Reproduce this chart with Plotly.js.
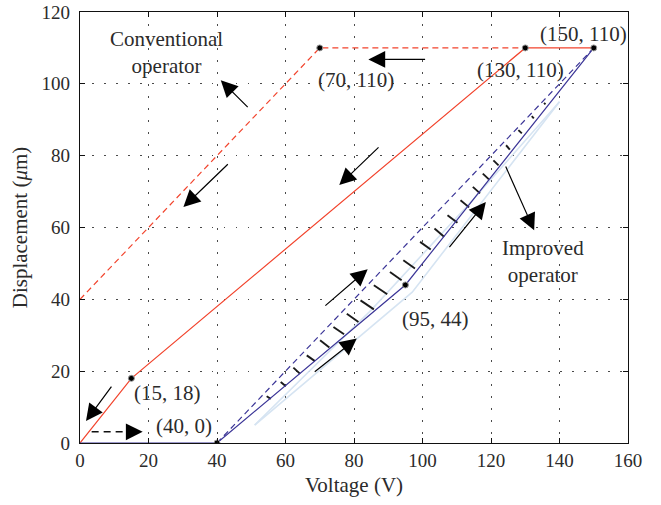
<!DOCTYPE html>
<html>
<head>
<meta charset="utf-8">
<script src="https://cdn.plot.ly/plotly-3.0.1.min.js"></script>
<style>html,body{margin:0;padding:0;background:#fff;}#chart{width:661px;height:505px;}</style>
</head>
<body>
<div id="chart"></div>
<script>
// ---- data ----
const convSolidX = [0, 15, 130, 150];
const convSolidY = [0, 18, 110, 110];
const convDashX = [0, 70, 130];
const convDashY = [40, 110, 110];
const impSolidX = [0, 40, 95, 150];
const impSolidY = [0, 0, 44, 110];
const impDashX = [40, 150];
const impDashY = [0, 110];
const lightAX = [51, 85, 115, 140];
const lightAY = [5, 37, 68, 95];
const lightBX = [51, 97, 140];
const lightBY = [5, 42, 95];
const hatchX0 = [54.5, 58.6, 62.3, 66.2, 70.1, 74.0, 77.9, 81.9, 85.8, 90.5, 94.4, 99.3, 103.5, 107.3, 111.1, 114.7, 117.6, 120.7, 124.4, 128.0, 131.9, 135.5];
const hatchY0 = [13.0, 17.0, 21.0, 24.4, 28.6, 32.3, 36.0, 39.7, 43.9, 47.6, 50.9, 56.0, 59.7, 63.4, 67.6, 71.3, 75.0, 78.7, 82.9, 87.1, 91.0, 94.7];
const hatchX1 = [55.7, 60.1, 64.2, 68.6, 72.8, 77.1, 81.3, 85.8, 89.7, 93.9, 97.8, 102.4, 106.3, 110.2, 113.6, 116.8, 119.4, 122.2, 125.5, 129.0, 132.5, 135.9];
const hatchY1 = [12.3, 15.8, 19.3, 22.8, 26.6, 30.3, 33.7, 37.2, 41.4, 45.3, 48.6, 53.9, 57.4, 61.3, 65.6, 69.5, 73.4, 77.3, 81.7, 86.2, 90.4, 94.3];
const pointX = [15, 40, 70, 130, 150, 95];
const pointY = [18, 0, 110, 110, 110, 44];
const pointLabels = ['(15, 18)', '(40, 0)', '(70, 110)', '(130, 110)', '(150, 110)', '(95, 44)'];
const labelX = [25.6, 30.4, 80.6, 128.5, 147, 103.7];
const labelY = [13.8, 4.6, 101.0, 103.8, 114.0, 34.6];
const arrowTailX = [49.4, 43.6, 101.2, 87.6, 9.5, 71.2, 68.1, 107.5, 124.1];
const arrowTailY = [93.1, 78.0, 106.8, 82.7, 16.1, 37.9, 19.5, 54.1, 77.4];
const arrowHeadX = [41.1, 30.2, 84.2, 75.7, 1.75, 84.0, 80.8, 118.5, 132.6];
const arrowHeadY = [101.0, 65.7, 106.8, 71.8, 6.1, 48.4, 29.1, 67.1, 59.2];
const dashArrowX = [3.4, 14.5, 18.3];
const dashArrowY = [3.1, 3.1, 3.1];
const xTicks = [0, 20, 40, 60, 80, 100, 120, 140, 160];
const yTicks = [0, 20, 40, 60, 80, 100, 120];

// ---- build ----
const RED = '#f2432c';
const BLUE = '#3b3597';
const LIGHT = '#d6e4f2';
const TXT = '#2b2b2b';
const FONT = 'Liberation Serif, Times New Roman, serif';

const hx = [], hy = [];
for (let i = 0; i < hatchX0.length; i++) {
  hx.push(hatchX0[i], hatchX1[i], null);
  hy.push(hatchY0[i], hatchY1[i], null);
}

const traces = [
  {x: lightAX, y: lightAY, mode: 'lines', line: {color: LIGHT, width: 1.6}},
  {x: lightBX, y: lightBY, mode: 'lines', line: {color: LIGHT, width: 1.6}},
  {x: hx, y: hy, mode: 'lines', line: {color: '#1a1a1a', width: 1.9}, connectgaps: false},
  {x: convDashX, y: convDashY, mode: 'lines', line: {color: RED, width: 1.2, dash: '6px,4px'}},
  {x: convSolidX, y: convSolidY, mode: 'lines', line: {color: RED, width: 1.2}},
  {x: impDashX, y: impDashY, mode: 'lines', line: {color: BLUE, width: 1.2, dash: '6px,4px'}},
  {x: impSolidX, y: impSolidY, mode: 'lines', line: {color: BLUE, width: 1.2}},
  {x: dashArrowX.slice(0, 2), y: dashArrowY.slice(0, 2), mode: 'lines', line: {color: '#111', width: 1.5, dash: '7px,5px'}},
  {x: pointX, y: pointY, mode: 'markers', marker: {color: '#000', size: 6, line: {color: '#9a9a9a', width: 1}}},
];

const annotations = [];
for (let i = 0; i < arrowTailX.length; i++) {
  annotations.push({
    x: arrowHeadX[i], y: arrowHeadY[i], ax: arrowTailX[i], ay: arrowTailY[i],
    xref: 'x', yref: 'y', axref: 'x', ayref: 'y', text: '', showarrow: true,
    arrowhead: 2, arrowsize: 2.8, arrowwidth: 1.2, arrowcolor: '#000', standoff: 0
  });
}
annotations.push({
  x: dashArrowX[2], y: dashArrowY[2], ax: dashArrowX[1], ay: dashArrowY[1],
  xref: 'x', yref: 'y', axref: 'x', ayref: 'y', text: '', showarrow: true,
  arrowhead: 2, arrowsize: 2.8, arrowwidth: 1.2, arrowcolor: '#000', standoff: 0
});
for (let i = 0; i < pointLabels.length; i++) {
  annotations.push({x: labelX[i], y: labelY[i], xref: 'x', yref: 'y', text: pointLabels[i],
    showarrow: false, font: {family: FONT, size: 21, color: TXT}});
}
annotations.push({x: 25.4, y: 108.8, xref: 'x', yref: 'y', text: 'Conventional<br>operator',
  showarrow: false, font: {family: FONT, size: 21, color: TXT}});
annotations.push({x: 135.2, y: 50.6, xref: 'x', yref: 'y', text: 'Improved<br>operator',
  showarrow: false, font: {family: FONT, size: 21, color: TXT}});

const axisCommon = {
  showline: true, linecolor: '#111', linewidth: 1.3, mirror: 'ticks',
  ticks: 'inside', ticklen: 5, tickcolor: '#111', tickwidth: 1,
  showgrid: true, gridcolor: '#4a4a4a', gridwidth: 1, griddash: '1.5px,10.5px',
  zeroline: false, tickfont: {family: FONT, size: 19, color: TXT}
};

const layout = {
  width: 661, height: 505,
  margin: {l: 80, r: 33, t: 12, b: 62},
  paper_bgcolor: '#fff', plot_bgcolor: '#fff',
  showlegend: false,
  xaxis: Object.assign({}, axisCommon, {range: [0, 160], tickvals: xTicks,
    title: {text: 'Voltage (V)', font: {family: FONT, size: 21, color: TXT}, standoff: 7}}),
  yaxis: Object.assign({}, axisCommon, {range: [0, 120], tickvals: yTicks, ticklabelstandoff: 5,
    title: {text: 'Displacement (<i>μ</i>m)', font: {family: FONT, size: 21, color: TXT}, standoff: 8}}),
  annotations: annotations
};

Plotly.newPlot('chart', traces, layout, {displayModeBar: false, staticPlot: true});
</script>
</body>
</html>
